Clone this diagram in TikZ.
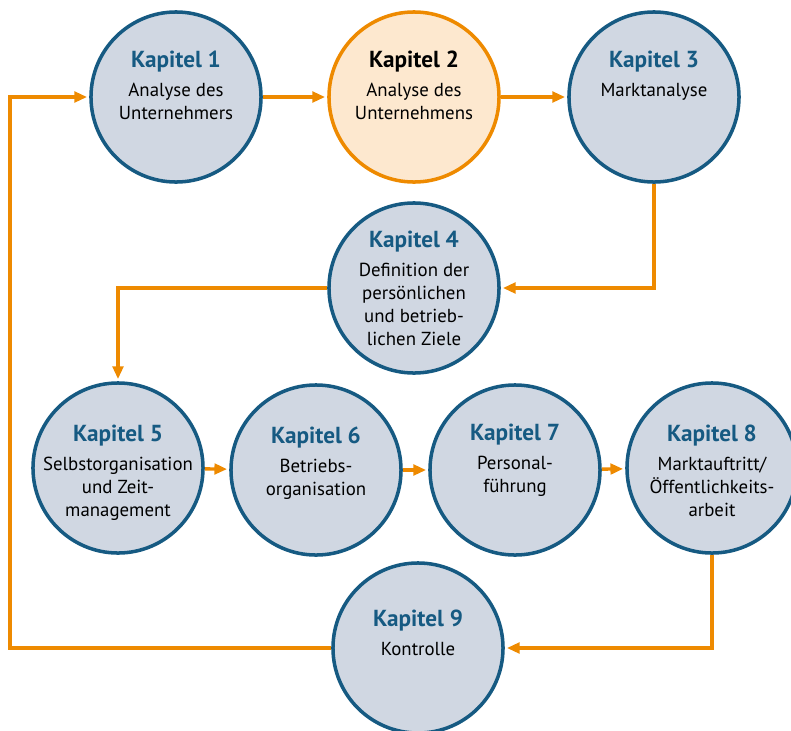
\documentclass[tikz,border=0pt]{standalone}
\usepackage{fontspec}
\setmainfont{PT Sans}
\usetikzlibrary{arrows.meta,positioning,calc}
\definecolor{KapBlue}{RGB}{22,90,130}
\definecolor{KapFill}{RGB}{208,215,226}
\definecolor{KapOrange}{RGB}{238,138,0}
\definecolor{KapCream}{RGB}{253,232,207}

\tikzset{
  kap/.style={circle, draw=KapBlue, fill=KapFill, line width=2.5pt, minimum size=4.25cm, inner sep=0pt},
  kaphl/.style={kap, draw=KapOrange, fill=KapCream},
  txt/.style={align=center, inner sep=0pt, font=\fontsize{13.4}{16.3}\selectfont},
  arr/.style={draw=KapOrange, line width=2.4pt, -{Triangle[length=9pt,width=7.5pt]}, shorten >=1.5pt}
}

\begin{document}
\begin{tikzpicture}[x=0.025cm, y=-0.025cm]
        \useasboundingbox (0,0) rectangle (791,731);

        \foreach \n/\x/\y/\s/\c/\off/\txt in {
          1/176/97/kap/KapBlue/46/{Analyse des\\Unternehmers},
          2/414/97/kaphl/black/46/{Analyse des\\Unternehmens},
          3/654/97/kap/KapBlue/46/{Marktanalyse},
          4/414/288/kap/KapBlue/57/{Definition der\\persönlichen\\und betrieb-\\lichen Ziele},
          5/118/468/kap/KapBlue/43/{Selbstorganisation\\und Zeit-\\management},
          6/316/470/kap/KapBlue/43/{Betriebs-\\organisation},
          7/515/470/kap/KapBlue/46/{Personal-\\führung},
          8/712/468/kap/KapBlue/43/{Marktauftritt/\\Öffentlichkeits-\\arbeit},
          9/418/648/kap/KapBlue/38/{Kontrolle}
        } {
          \node[\s] (k\n) at (\x,\y) {};
          \node[txt, anchor=north] (t\n) at (\x,{\y-\off})
            {{\fontsize{16.5}{18}\selectfont\bfseries\color{\c}Kapitel \n}\\[4pt]\txt};
        }

        \coordinate (lft) at (10,0);

        % obere Reihe
        \draw[arr] (k1) -- (k2);
        \draw[arr] (k2) -- (k3);
        \draw[arr] (k3.south) |- (k4.east);
        \draw[arr] (k4.west) -| (k5.north);

        % mittlere Reihe
        \draw[arr] (k5) -- (k6);
        \draw[arr] (k6) -- (k7);
        \draw[arr] (k7) -- (k8);
        \draw[arr] (k8.south) |- (k9.east);

        % Rueckfuehrung
        \draw[arr] (k9.west) -- (k9.west -| lft) |- (k1.west);

      \end{tikzpicture}
\end{document}
